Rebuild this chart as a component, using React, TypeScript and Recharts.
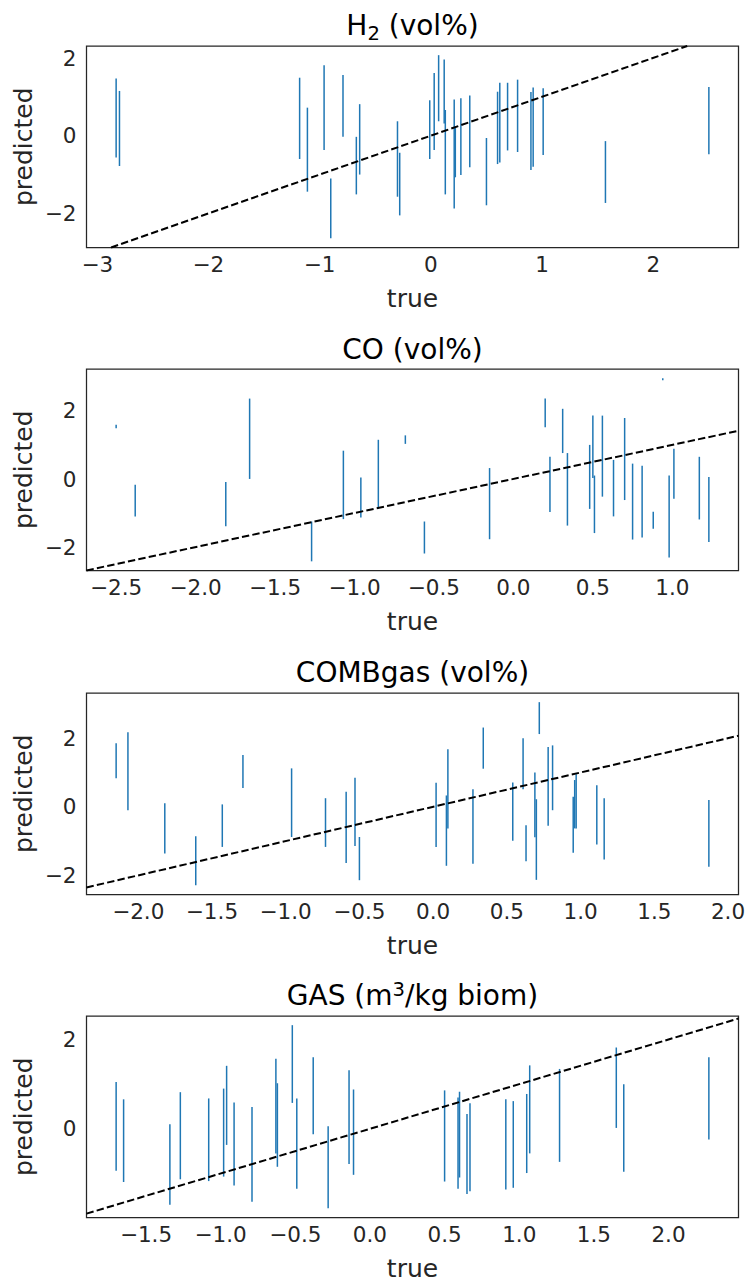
import React from 'react'
import { ComposedChart, Scatter, ErrorBar, XAxis, YAxis, ReferenceLine, ReferenceArea } from 'recharts'

// true value and upper / lower ends of each predicted interval
const h2True = [-2.83, -2.8, -1.18, -1.11, -0.96, -0.9, -0.79, -0.67, -0.64, -0.3, -0.28, -0.01, 0.03, 0.07, 0.12, 0.13, 0.21, 0.22, 0.27, 0.35, 0.5, 0.6, 0.62, 0.69, 0.78, 0.9, 0.92, 1.01, 1.57, 2.5]
const h2Hi = [1.47, 1.15, 1.49, 0.72, 1.81, -1.1, 1.56, -0.03, 0.81, 0.37, -0.44, 0.91, 1.61, 2.07, 1.96, 0.66, 0.93, 0.21, 0.96, 1.03, -0.06, 1.13, 1.36, 1.36, 1.44, 1.12, 1.24, 1.22, -0.14, 1.25]
const h2Lo = [-0.56, -0.78, -0.6, -1.44, -0.37, -2.64, -0.03, -1.51, -1.0, -1.57, -2.05, -0.6, -0.37, 0.37, 0.31, -1.51, -1.87, -1.07, -1.01, -0.81, -1.79, -0.73, -0.69, -0.38, -0.42, -0.88, -0.8, -0.5, -1.73, -0.48]

const coTrue = [-2.5, -2.38, -1.81, -1.66, -1.27, -1.07, -0.96, -0.85, -0.68, -0.56, -0.15, 0.2, 0.23, 0.31, 0.34, 0.48, 0.5, 0.51, 0.56, 0.63, 0.7, 0.75, 0.81, 0.88, 0.94, 0.98, 1.01, 1.17, 1.23]
const coHi = [1.59, -0.17, -0.09, 2.36, -1.25, 0.83, 0.04, 1.15, 1.28, -1.25, 0.32, 2.36, 0.65, 2.06, 0.76, 1.0, 1.86, 0.1, 1.86, 0.56, 1.79, 0.45, 0.39, -0.96, 2.96, 0.1, 0.89, 0.65, 0.06]
const coLo = [1.49, -1.1, -1.39, 0.0, -2.42, -1.18, -1.13, -0.88, 1.03, -2.19, -1.77, 1.52, -0.97, 0.76, -1.37, -0.88, 0.03, -1.59, -0.52, -1.1, -0.62, -1.78, -1.72, -1.46, 2.9, -2.31, -0.58, -1.19, -1.85]

const combTrue = [-2.15, -2.07, -1.82, -1.61, -1.43, -1.29, -0.96, -0.73, -0.59, -0.53, -0.5, 0.02, 0.09, 0.1, 0.27, 0.34, 0.54, 0.61, 0.63, 0.69, 0.7, 0.72, 0.78, 0.81, 0.95, 0.96, 0.97, 1.11, 1.16, 1.87]
const combHi = [1.85, 2.17, 0.1, -0.86, 0.07, 1.51, 1.12, 0.25, 0.44, 0.85, -0.88, 0.7, 0.33, 1.68, 0.51, 2.31, 0.71, 2.0, -0.54, 1.0, 0.22, 3.05, 1.74, 1.79, 0.29, 0.78, 0.95, 0.63, 0.25, 0.2]
const combLo = [0.83, -0.1, -1.36, -2.29, -1.17, 0.55, -0.88, -1.17, -1.64, -1.14, -2.14, -1.17, -1.72, -0.63, -1.66, 1.11, -0.99, 0.51, -1.59, -0.89, -2.13, 2.12, -0.55, -0.1, -1.34, -0.63, -0.63, -1.1, -1.54, -1.75]

const gasTrue = [-1.7, -1.65, -1.34, -1.27, -1.08, -0.98, -0.96, -0.91, -0.79, -0.63, -0.62, -0.52, -0.49, -0.38, -0.28, -0.14, -0.11, 0.5, 0.59, 0.6, 0.65, 0.67, 0.91, 0.96, 1.05, 1.07, 1.27, 1.65, 1.7, 2.27]
const gasHi = [1.05, 0.66, 0.1, 0.82, 0.68, 0.9, 1.41, 0.59, 0.49, 1.57, 1.02, 2.32, 0.68, 1.6, 0.06, 1.31, 0.88, 0.86, 0.7, 0.83, 0.33, 0.57, 0.66, 0.62, 0.78, 1.42, 1.34, 1.82, 1.0, 1.6]
const gasLo = [-0.94, -1.19, -1.7, -1.13, -1.17, -1.07, -0.36, -1.27, -1.63, -0.55, -0.85, 0.58, -1.34, -0.12, -1.78, -0.79, -1.03, -1.18, -1.34, -1.09, -1.46, -1.4, -1.36, -1.32, -0.99, -0.55, -0.74, 0.02, -0.96, -0.24]

const h2XTicks = [-3, -2, -1, 0, 1, 2]
const coXTicks = [-2.5, -2, -1.5, -1, -0.5, 0, 0.5, 1]
const combXTicks = [-2, -1.5, -1, -0.5, 0, 0.5, 1, 1.5, 2]
const gasXTicks = [-1.5, -1, -0.5, 0, 0.5, 1, 1.5, 2]
const yTicks3 = [-2, 0, 2]
const gasYTicks = [0, 2]

const W = 749
const PLOT_L = 86.5
const PLOT_R = 738.5
const PLOT_H = 201.5
const TOP_PAD = 12
const XAXIS_H = 68
const INK = '#262626'
const FONT = 'DejaVu Sans, sans-serif'
const TICK_SIZE = 21.5

// matplotlib style 5% autoscale margins
function pad(lo: number, hi: number): [number, number] {
  const m = (hi - lo) * 0.05
  return [lo - m, hi + m]
}

const fmt = (digits: number) => (v: number) =>
  (v < 0 ? '\u2212' : '') + Math.abs(v).toFixed(digits)

type PanelProps = {
  title: React.ReactNode
  xs: number[]
  hi: number[]
  lo: number[]
  xTicks: number[]
  yTicks: number[]
  digits: number
  plotTop: number
}

function Panel({ title, xs, hi, lo, xTicks, yTicks, digits, plotTop }: PanelProps) {
  const data = xs.map((x, i) => ({ x, y: (hi[i] + lo[i]) / 2, err: (hi[i] - lo[i]) / 2 }))
  const xd = pad(Math.min(...xs), Math.max(...xs))
  const yd = pad(Math.min(...lo), Math.max(...hi))
  const a = Math.max(xd[0], yd[0])
  const b = Math.min(xd[1], yd[1])

  return (
    <>
      <div
        style={{
          position: 'absolute',
          left: PLOT_L,
          width: PLOT_R - PLOT_L,
          top: plotTop - 9.7 - 23.7,
          textAlign: 'center',
          fontFamily: FONT,
          fontSize: 28,
          lineHeight: 1,
          color: '#000',
          whiteSpace: 'nowrap',
        }}
      >
        {title}
      </div>
      <div style={{ position: 'absolute', left: 0, top: plotTop - TOP_PAD }}>
        <ComposedChart
          width={W}
          height={TOP_PAD + PLOT_H + XAXIS_H}
          data={data}
          margin={{ top: TOP_PAD, right: W - PLOT_R, left: 0, bottom: 0 }}
          style={{ fontFamily: FONT }}
        >
          <XAxis
            dataKey="x"
            type="number"
            domain={xd}
            allowDataOverflow
            ticks={xTicks}
            tickFormatter={fmt(digits)}
            height={XAXIS_H}
            axisLine={false}
            tickLine={false}
            tickMargin={3}
            tick={{ fontSize: TICK_SIZE, fill: INK }}
            label={{ value: 'true', position: 'insideBottom', offset: 9, fontSize: 25, fill: INK }}
          />
          <YAxis
            dataKey="y"
            type="number"
            domain={yd}
            allowDataOverflow
            ticks={yTicks}
            tickFormatter={fmt(0)}
            width={PLOT_L}
            axisLine={false}
            tickLine={false}
            tickMargin={4}
            tick={{ fontSize: TICK_SIZE, fill: INK }}
            label={{
              value: 'predicted',
              position: 'insideLeft',
              angle: -90,
              offset: 23,
              fontSize: 25,
              fill: INK,
              style: { textAnchor: 'middle' },
            }}
          />
          <Scatter dataKey="y" shape={() => <g />} isAnimationActive={false}>
            <ErrorBar dataKey="err" direction="y" width={0} stroke="#1f77b4" strokeWidth={1.5} />
          </Scatter>
          <ReferenceLine
            segment={[{ x: a, y: a }, { x: b, y: b }]}
            stroke="#000"
            strokeWidth={2}
            strokeDasharray="7.4 3.2"
            ifOverflow="visible"
          />
          <ReferenceArea
            x1={xd[0]}
            x2={xd[1]}
            y1={yd[0]}
            y2={yd[1]}
            fill="none"
            fillOpacity={0}
            stroke={INK}
            strokeWidth={1.25}
            ifOverflow="visible"
          />
        </ComposedChart>
      </div>
    </>
  )
}

const sub = (t: string) => (
  <span style={{ fontSize: '0.7em', position: 'relative', top: '0.25em' }}>{t}</span>
)
const sup = (t: string) => (
  <span style={{ fontSize: '0.7em', position: 'relative', top: '-0.45em' }}>{t}</span>
)

export default function App() {
  return (
    <div style={{ position: 'absolute', left: 0, top: 0, width: W, height: 1280, background: '#fff' }}>
      <Panel title={<>H{sub('2')} (vol%)</>} xs={h2True} hi={h2Hi} lo={h2Lo} xTicks={h2XTicks} yTicks={yTicks3} digits={0} plotTop={45.7} />
      <Panel title="CO (vol%)" xs={coTrue} hi={coHi} lo={coLo} xTicks={coXTicks} yTicks={yTicks3} digits={1} plotTop={369} />
      <Panel title="COMBgas (vol%)" xs={combTrue} hi={combHi} lo={combLo} xTicks={combXTicks} yTicks={yTicks3} digits={1} plotTop={692.7} />
      <Panel title={<>GAS (m{sup('3')}/kg biom)</>} xs={gasTrue} hi={gasHi} lo={gasLo} xTicks={gasXTicks} yTicks={gasYTicks} digits={1} plotTop={1015.7} />
    </div>
  )
}
